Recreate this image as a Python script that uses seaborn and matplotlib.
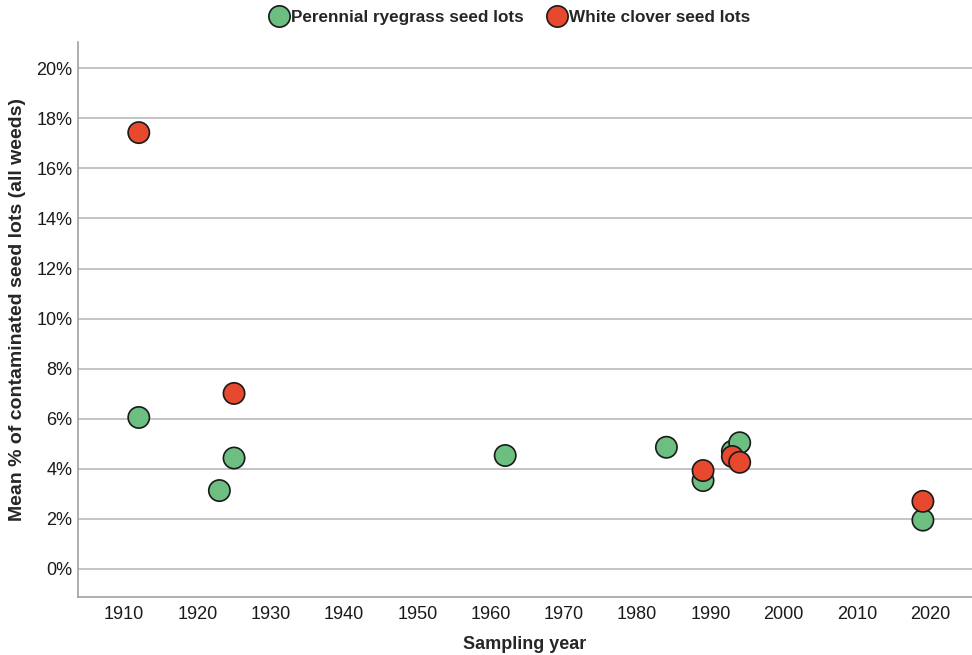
import pandas as pd
import numpy as np
import matplotlib
matplotlib.use('Agg')
import matplotlib.pyplot as plt
import seaborn as sns

# values
rye_years = [1912, 1923, 1925, 1962, 1984, 1989, 1993, 1994, 2019]
rye_pct = [6.05, 3.13, 4.43, 4.53, 4.86, 3.53, 4.70, 5.04, 1.95]
clover_years = [1912, 1925, 1989, 1993, 1994, 2019]
clover_pct = [17.43, 7.01, 3.93, 4.49, 4.26, 2.70]
series_names = ['Perennial ryegrass seed lots', 'White clover seed lots']
year_ticks = list(range(1910, 2021, 10))
pct_ticks = list(range(0, 21, 2))

df = pd.DataFrame({
    'year': rye_years + clover_years,
    'pct': rye_pct + clover_pct,
    'series': [series_names[0]] * len(rye_years) + [series_names[1]] * len(clover_years),
})

sns.set_style('white')
plt.rcParams['font.family'] = ['Liberation Sans', 'DejaVu Sans']

fig = plt.figure(figsize=(9.72, 6.55), dpi=100)
ax = fig.add_axes([0.0802, 0.0890, 0.9198, 0.8469])

palette = {series_names[0]: '#6cbf80', series_names[1]: '#e6492d'}
sns.scatterplot(data=df, x='year', y='pct', hue='series', palette=palette,
                s=235, edgecolor='#1a1a1a', linewidth=1.2, ax=ax, zorder=3)

ax.set_xlim(1903.7, 2025.7)
ax.set_ylim(-1.11, 21.05)
ax.set_xticks(year_ticks)
ax.set_yticks(pct_ticks)
ax.set_yticklabels([f'{t}%' for t in pct_ticks])
ax.tick_params(axis='x', labelsize=13, length=0, pad=7, colors='#1a1a1a')
ax.tick_params(axis='y', labelsize=13, length=0, pad=4, colors='#1a1a1a')
ax.yaxis.grid(True, color='#b4b4b4', linewidth=1.1)
ax.xaxis.grid(False)
ax.set_axisbelow(True)

for side in ['top', 'right']:
    ax.spines[side].set_visible(False)
for side in ['left', 'bottom']:
    ax.spines[side].set_color('#999999')
    ax.spines[side].set_linewidth(1.1)

ax.set_xlabel('Sampling year', fontsize=13, fontweight='bold', labelpad=9)
ax.set_ylabel('Mean % of contaminated seed lots (all weeds)', fontsize=14,
              fontweight='bold')
ax.yaxis.set_label_coords(-0.058, 0.517)

handles, labels = ax.get_legend_handles_labels()
ax.get_legend().remove()
fig.legend(handles, labels, loc='center', bbox_to_anchor=(0.525, 0.973),
           ncol=2, frameon=False, handlelength=1.0, handletextpad=0.2,
           columnspacing=1.4, prop={'weight': 'bold', 'size': 12.3})

fig.savefig('out.png', dpi=100)
